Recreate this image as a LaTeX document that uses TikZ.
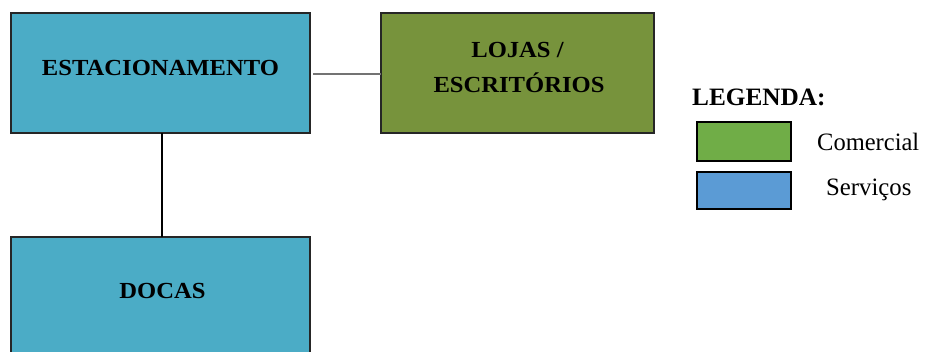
\documentclass[tikz,border=0pt]{standalone}
\usepackage{fontspec}
\setmainfont{Liberation Serif}
\usepackage{graphicx}
\definecolor{svc}{HTML}{4BACC6}
\definecolor{com}{HTML}{77933C}
\definecolor{lgreen}{HTML}{70AD47}
\definecolor{lblue}{HTML}{5B9BD5}
\tikzset{
  box/.style={draw=black!85, line width=1.3pt, inner sep=0pt, outer sep=0pt},
  boxtxt/.style={inner sep=0pt, font=\fontsize{23}{32}\selectfont\bfseries, align=center},
  legbox/.style={draw=black, line width=1.2pt, inner sep=0pt, outer sep=0pt},
  legtxt/.style={inner sep=0pt, anchor=west, font=\fontsize{25}{28}\selectfont},
  link/.style={line width=1.3pt}
}
\begin{document}
\begin{tikzpicture}[x=1pt,y=-1pt]
\useasboundingbox (0,0) rectangle (928,351);
\clip (0,0) rectangle (928,351);
% boxes
\node[box, fill=svc, minimum width=299pt, minimum height=120pt] (est) at (160.5,73) {};
\node[box, fill=com, minimum width=273pt, minimum height=120pt] (loj) at (517.5,73) {};
\node[box, fill=svc, minimum width=299pt, minimum height=140pt] (doc) at (160.5,307) {};
% texts
\node[boxtxt] (estt) at (160.5,68) {\scalebox{1.07}[1]{ESTACIONAMENTO}};
\node[boxtxt] (lojt1) at (517.5,50) {\scalebox{1.07}[1]{LOJAS /}};
\node[boxtxt] (lojt2) at (519,83) {\scalebox{1.07}[1]{ESCRITÓRIOS}};
\node[boxtxt] (doct) at (162.5,291) {\scalebox{1.07}[1]{DOCAS}};
% connectors
\coordinate (hs) at (313,74);
\draw[link, draw=black!55] (hs) -- (loj.west |- hs);
\coordinate (vs) at (162,133);
\draw[link] (vs) -- (vs |- doc.north);
% legend
\node[inner sep=0pt, anchor=west, font=\fontsize{25}{28}\selectfont\bfseries] (leg) at (692,97) {\scalebox{1.01}[1]{LEGENDA:}};
\node[legbox, fill=lgreen, minimum width=94pt, minimum height=39pt, anchor=north west] (lg) at (697,122) {};
\node[legbox, fill=lblue, minimum width=94pt, minimum height=37pt, anchor=north west] (lb) at (697,172) {};
\node[legtxt] (lgt) at (817,142) {\scalebox{0.98}[1]{Comercial}};
\node[legtxt] (lbt) at (826,190) {\scalebox{0.99}[1]{Serviços}};
\end{tikzpicture}
\end{document}
